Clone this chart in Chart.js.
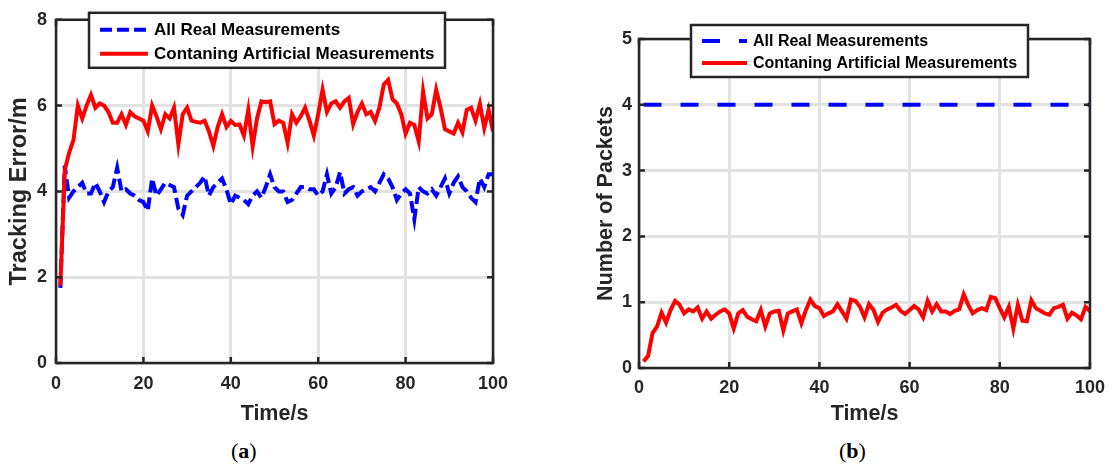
<!DOCTYPE html>
<html>
<head>
<meta charset="utf-8">
<script src="https://cdn.jsdelivr.net/npm/chart.js@4.4.0/dist/chart.umd.min.js"></script>
<style>
  body { margin: 0; background: #fff; width: 1114px; height: 468px; position: relative; overflow: hidden; }
  canvas { position: absolute; top: 0; }
  #chartA { left: 0; }
  #chartB { left: 557px; }
  .cap { position: absolute; top: 438px; font-family: "Liberation Serif", "DejaVu Serif", serif; font-size: 22px; color: #000; }
</style>
</head>
<body>
<canvas id="chartA" width="557" height="430"></canvas>
<canvas id="chartB" width="557" height="430"></canvas>
<div class="cap" style="left:231px">(<b>a</b>)</div>
<div class="cap" style="left:839px">(<b>b</b>)</div>
<script>
// tempo (s)
const tempo = [
  1, 2, 3, 4, 5, 6, 7, 8, 9, 10, 11, 12, 13, 14, 15, 16, 17, 18, 19, 20,
  21, 22, 23, 24, 25, 26, 27, 28, 29, 30, 31, 32, 33, 34, 35, 36, 37, 38, 39, 40,
  41, 42, 43, 44, 45, 46, 47, 48, 49, 50, 51, 52, 53, 54, 55, 56, 57, 58, 59, 60,
  61, 62, 63, 64, 65, 66, 67, 68, 69, 70, 71, 72, 73, 74, 75, 76, 77, 78, 79, 80,
  81, 82, 83, 84, 85, 86, 87, 88, 89, 90, 91, 92, 93, 94, 95, 96, 97, 98, 99, 100
];

// (a) tracking error
const erroReal = [
  1.75, 4.6, 3.85, 4.0, 4.1, 4.2, 3.95, 3.95, 4.2, 4.0, 3.75, 4.0, 4.1, 4.55, 4.0, 4.05, 3.95, 3.9, 3.8, 3.75,
  3.55, 4.3, 3.9, 4.05, 4.2, 4.15, 4.1, 3.6, 3.45, 3.9, 4.0, 4.1, 4.2, 4.35, 3.9, 4.1, 4.2, 4.3, 4.05, 3.7,
  3.9, 3.85, 3.8, 3.7, 3.9, 4.0, 3.85, 4.1, 4.4, 4.1, 4.0, 4.0, 3.75, 3.8, 3.95, 4.1, 4.1, 4.05, 4.05, 3.9,
  4.0, 4.4, 3.95, 4.1, 4.45, 3.95, 4.05, 4.1, 3.9, 4.0, 4.05, 4.1, 4.0, 4.2, 4.4, 4.3, 4.1, 3.8, 3.95, 4.05,
  3.95, 3.35, 4.1, 4.0, 3.95, 4.05, 3.9, 4.1, 4.3, 3.95, 4.2, 4.35, 4.1, 4.0, 3.85, 3.75, 4.3, 4.1, 4.4, 4.4
];
const erroArtificial = [
  1.8, 4.5, 4.9, 5.2, 6.0, 5.7, 6.0, 6.25, 5.95, 6.05, 6.0, 5.85, 5.6, 5.6, 5.8, 5.55, 5.85, 5.75, 5.7, 5.65,
  5.4, 6.0, 5.75, 5.45, 5.8, 5.7, 5.95, 5.1, 5.8, 5.95, 5.65, 5.62, 5.6, 5.65, 5.4, 5.06, 5.5, 5.8, 5.5, 5.64,
  5.55, 5.56, 5.3, 5.9, 5.05, 5.7, 6.1, 6.08, 6.1, 5.57, 5.65, 5.6, 5.13, 5.8, 5.6, 5.75, 5.95, 5.65, 5.3, 5.8,
  6.37, 5.85, 6.05, 6.1, 5.95, 6.1, 6.18, 5.57, 5.85, 6.05, 5.8, 5.85, 5.64, 5.95, 6.49, 6.6, 6.15, 6.05, 5.8, 5.35,
  5.6, 5.55, 5.17, 6.33, 5.7, 5.8, 6.37, 5.95, 5.45, 5.4, 5.35, 5.6, 5.38, 5.9, 5.95, 5.65, 6.04, 5.48, 5.9, 5.4
];

// (b) number of packets
const pacotesReal = [
  4, 4, 4, 4, 4, 4, 4, 4, 4, 4, 4, 4, 4, 4, 4, 4, 4, 4, 4, 4,
  4, 4, 4, 4, 4, 4, 4, 4, 4, 4, 4, 4, 4, 4, 4, 4, 4, 4, 4, 4,
  4, 4, 4, 4, 4, 4, 4, 4, 4, 4, 4, 4, 4, 4, 4, 4, 4, 4, 4, 4,
  4, 4, 4, 4, 4, 4, 4, 4, 4, 4, 4, 4, 4, 4, 4, 4, 4, 4, 4, 4,
  4, 4, 4, 4, 4, 4, 4, 4, 4, 4, 4, 4, 4, 4, 4, 4, 4, 4, 4, 4
];
const pacotesArtificial = [
  0.1, 0.18, 0.53, 0.63, 0.84, 0.69, 0.88, 1.02, 0.96, 0.83, 0.89, 0.86, 0.92, 0.75, 0.86, 0.75, 0.81, 0.86, 0.89, 0.83,
  0.6, 0.83, 0.88, 0.78, 0.74, 0.71, 0.88, 0.63, 0.83, 0.86, 0.87, 0.57, 0.83, 0.86, 0.89, 0.68, 0.88, 1.04, 0.94, 0.91,
  0.79, 0.83, 0.86, 0.97, 0.86, 0.75, 1.04, 1.02, 0.93, 0.77, 0.97, 0.88, 0.7, 0.84, 0.89, 0.92, 0.96, 0.87, 0.82, 0.88,
  0.94, 0.89, 0.77, 1.02, 0.86, 0.97, 0.86, 0.86, 0.82, 0.87, 0.89, 1.12, 0.96, 0.83, 0.88, 0.91, 0.88, 1.08, 1.06, 0.91,
  0.77, 0.93, 0.6, 0.96, 0.72, 0.71, 1.03, 0.91, 0.87, 0.83, 0.81, 0.91, 0.93, 0.96, 0.75, 0.84, 0.8, 0.74, 0.93, 0.86
];

const ticksX = [0, 20, 40, 60, 80, 100];
const ticksYa = [0, 2, 4, 6, 8];
const ticksYb = [0, 1, 2, 3, 4, 5];
const nomes = ['All Real Measurements', 'Contaning Artificial Measurements'];

const corTexto = '#262626';
const corGrade = '#e2e2e2';
const familia = "'Liberation Sans', Arial, Helvetica, sans-serif";
const fonteTick = { family: familia, size: 18, weight: 'bold' };
const fonteTitulo = { family: familia, size: 21.5, weight: 'bold' };

function pontos(serie) {
  return tempo.map((t, i) => ({ x: t, y: serie[i] }));
}

// moldura (box on), ticks para dentro e legenda com caixa
const moldura = {
  id: 'moldura',
  afterDraw(chart, args, opts) {
    const { ctx, chartArea: a, scales } = chart;
    ctx.save();
    ctx.strokeStyle = corTexto;
    ctx.lineWidth = 2.5;
    ctx.beginPath();
    scales.x.ticks.forEach(t => {
      const px = scales.x.getPixelForValue(t.value);
      ctx.moveTo(px, a.bottom); ctx.lineTo(px, a.bottom - 6);
      ctx.moveTo(px, a.top); ctx.lineTo(px, a.top + 6);
    });
    scales.y.ticks.forEach(t => {
      const py = scales.y.getPixelForValue(t.value);
      ctx.moveTo(a.left, py); ctx.lineTo(a.left + 6, py);
      ctx.moveTo(a.right, py); ctx.lineTo(a.right - 6, py);
    });
    ctx.stroke();
    ctx.strokeRect(a.left, a.top, a.right - a.left, a.bottom - a.top);

    // legenda
    const bx = a.left + opts.dx, by = a.top + opts.dy;
    ctx.fillStyle = '#fff';
    ctx.fillRect(bx, by, opts.w, opts.h);
    ctx.strokeStyle = corTexto;
    ctx.lineWidth = 2.5;
    ctx.strokeRect(bx, by, opts.w, opts.h);
    ctx.font = 'bold ' + opts.font + 'px ' + familia;
    ctx.textBaseline = 'middle';
    ctx.textAlign = 'left';
    chart.data.datasets.forEach((d, row) => {
      const y = by + opts.rows[row];
      ctx.strokeStyle = d.borderColor;
      ctx.lineWidth = d.borderWidth;
      ctx.setLineDash(d.borderDash || []);
      ctx.beginPath();
      ctx.moveTo(bx + 11, y);
      ctx.lineTo(bx + 11 + opts.line, y);
      ctx.stroke();
      ctx.setLineDash([]);
      ctx.fillStyle = '#000';
      ctx.fillText(d.label, bx + 17 + opts.line, y + 1);
    });
    ctx.restore();
  }
};

function eixos(c) {
  return {
    x: {
      type: 'linear', min: 0, max: 100,
      afterBuildTicks: s => { s.ticks = ticksX.map(v => ({ value: v })); },
      ticks: { font: fonteTick, color: corTexto, padding: c.xPad, maxRotation: 0 },
      grid: { color: corGrade, lineWidth: 3, drawTicks: false },
      border: { display: false },
      title: { display: true, text: 'Time/s', font: fonteTitulo, color: corTexto, padding: { top: 0, bottom: 3 } },
      afterFit: s => { s.height = c.xHeight; }
    },
    y: {
      type: 'linear', min: 0, max: c.yMax,
      afterBuildTicks: s => { s.ticks = c.yTicks.map(v => ({ value: v })); },
      ticks: { font: fonteTick, color: corTexto, padding: c.yPad },
      grid: { color: corGrade, lineWidth: 3, drawTicks: false },
      border: { display: false },
      title: { display: true, text: c.yTitle, font: { family: familia, size: c.yTitleSize, weight: 'bold' }, color: corTexto, padding: { top: c.yTitlePad, bottom: 0 } },
      afterFit: s => { s.width = c.yWidth; }
    }
  };
}

// (a)
new Chart(document.getElementById('chartA'), {
  type: 'line',
  data: {
    datasets: [{
      label: nomes[0],
      data: pontos(erroReal),
      borderColor: '#0000ff',
      borderWidth: 4,
      borderDash: [12, 5],
      pointRadius: 0,
      tension: 0,
      order: 1
    }, {
      label: nomes[1],
      data: pontos(erroArtificial),
      borderColor: '#ff0000',
      borderWidth: 4,
      pointRadius: 0,
      tension: 0,
      order: 0
    }]
  },
  options: {
    responsive: false,
    animation: false,
    devicePixelRatio: 1,
    layout: { padding: { top: 18, right: 64, left: 0, bottom: 0 } },
    plugins: {
      legend: { display: false },
      tooltip: { enabled: false },
      moldura: { dx: 33, dy: -7, w: 356, h: 55, line: 48, rows: [17, 41], font: 17 }
    },
    scales: eixos({ yMax: 8, yTicks: ticksYa, yTitle: 'Tracking Error/m', yTitleSize: 23.5, yWidth: 56, yPad: 9, yTitlePad: 5, xHeight: 67, xPad: 10 })
  },
  plugins: [moldura]
});

// (b)
new Chart(document.getElementById('chartB'), {
  type: 'line',
  data: {
    datasets: [{
      label: nomes[0],
      data: pontos(pacotesReal),
      borderColor: '#0000ff',
      borderWidth: 4,
      borderDash: [18, 19],
      pointRadius: 0,
      tension: 0,
      order: 1
    }, {
      label: nomes[1],
      data: pontos(pacotesArtificial),
      borderColor: '#ff0000',
      borderWidth: 4,
      pointRadius: 0,
      tension: 0,
      order: 0
    }]
  },
  options: {
    responsive: false,
    animation: false,
    devicePixelRatio: 1,
    layout: { padding: { top: 39, right: 20, left: 0, bottom: 0 } },
    plugins: {
      legend: { display: false },
      tooltip: { enabled: false },
      moldura: { dx: 52, dy: -14, w: 337, h: 52, line: 45, rows: [16, 38], font: 16 }
    },
    scales: eixos({ yMax: 5, yTicks: ticksYb, yTitle: 'Number of Packets', yTitleSize: 21.5, yWidth: 82, yPad: 7, yTitlePad: 36, xHeight: 62, xPad: 9 })
  },
  plugins: [moldura]
});
</script>
</body>
</html>
